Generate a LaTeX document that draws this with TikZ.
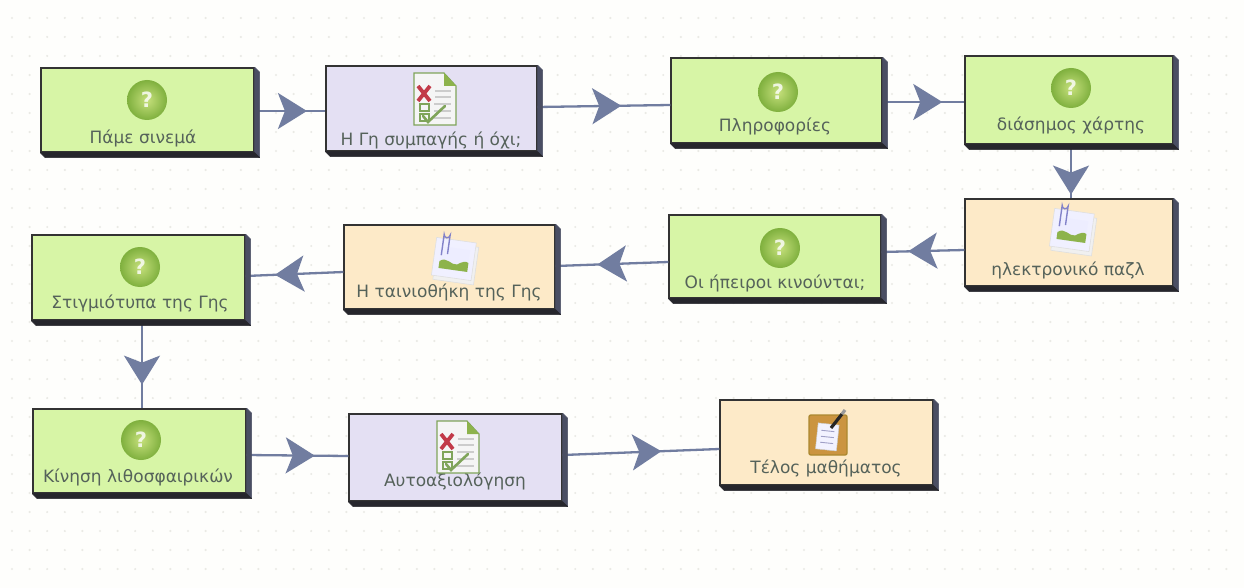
\documentclass[tikz,border=0pt]{standalone}
\usepackage{fontspec}
\setmainfont{DejaVu Sans}
\usetikzlibrary{arrows.meta,decorations.markings,calc}
\definecolor{bggrey}{HTML}{FEFEFC}
\definecolor{dotgrey}{HTML}{EAEAE5}
\definecolor{limefill}{HTML}{D7F5A6}
\definecolor{lavfill}{HTML}{E4E0F3}
\definecolor{peachfill}{HTML}{FDEAC8}
\definecolor{sidedark}{HTML}{4A4E63}
\definecolor{sideblack}{HTML}{26262C}
\definecolor{edgeblue}{HTML}{717DA0}
\definecolor{txtgrey}{HTML}{55625A}
\definecolor{ballin}{HTML}{C6E07C}
\definecolor{ballout}{HTML}{7FB03E}
\definecolor{pagegreen}{HTML}{8DB34C}
\definecolor{filered}{HTML}{C23A48}
\definecolor{fileline}{HTML}{7FA45A}
\definecolor{boardfill}{HTML}{CB9440}
\definecolor{boardedge}{HTML}{AC8830}
\tikzset{
  x=1pt,y=-1pt,
  flowbox/.style={draw=black!80,line width=1.4pt,inner sep=0pt},
  boxside/.style={fill=sidedark,draw=sidedark,line width=.5pt,line join=round},
  boxbottom/.style={fill=sideblack,draw=sideblack,line width=.5pt,line join=round},
  boxlabel/.style={font=\fontsize{17}{19}\selectfont,text=txtgrey,inner sep=0pt},
  flowedge/.style={draw=edgeblue,line width=2.3pt,postaction={decorate,decoration={markings,
    mark=at position #1 with {\arrow[edgeblue]{Stealth[length=29pt,width=36pt,inset=7pt]}}}}},
}
% name, x1,y1,x2,y2, fill, label x, label y, text
\newcommand{\flownode}[9]{%
  \pgfmathsetmacro\bcx{(#2+#4)/2}\pgfmathsetmacro\bcy{(#3+#5)/2}%
  \pgfmathsetmacro\bw{#4-#2}\pgfmathsetmacro\bh{#5-#3}%
  \node[flowbox,fill=#6,minimum width=\bw pt,minimum height=\bh pt] (#1) at (\bcx,\bcy) {};
  \node[boxlabel] (#1-label) at (#7,#8) {#9};
}
\newcommand{\boxthick}[1]{%
  \path[boxside] (#1.north east) -- ++(5,5) -- ($(#1.south east)+(5,5)$) -- (#1.south east) -- cycle;
  \path[boxbottom] (#1.south west) -- ($(#1.south west)+(5,5)$) -- ($(#1.south east)+(5,5)$) -- (#1.south east) -- cycle;
}
\newcommand{\iconball}[3]{%
  \begin{scope}[shift={(#2,#3)}]
    \shade[inner color=ballin,outer color=ballout] (0,0) circle[radius=20];
    \node[text=white,text opacity=.8,inner sep=0pt,font=\bfseries\fontsize{21}{21}\selectfont] (#1) at (0,0) {?};
  \end{scope}
}
\newcommand{\iconquiz}[2]{%
  \begin{scope}[shift={(#1,#2)}]
    \path[fill=white!92!gray,draw=fileline,line width=1.1pt] (-21,-26) -- (9,-26) -- (21,-13) -- (21,26) -- (-21,26) -- cycle;
    \fill[pagegreen] (9,-26) -- (21,-13) -- (9,-13) -- cycle;
    \draw[filered,line width=3.8pt] (-17,-13) -- (-5,2) (-5,-13) -- (-17,2);
    \draw[gray!40,line width=1.2pt] (0,-8) -- (16,-8) (0,-2) -- (16,-2) (-1,5) -- (16,5) (-1,12) -- (16,12) (-1,19) -- (16,19);
    \draw[fileline,line width=1.6pt] (-15,5) rectangle (-6,12) (-15,15) rectangle (-6,22);
    \draw[fileline,line width=2.6pt,line cap=round] (-12,17) -- (-7,23) -- (10,7);
  \end{scope}
}
\newcommand{\iconclip}[2]{%
  \begin{scope}[shift={(#1,#2)}]
    \begin{scope}[rotate=-8]
      \path[fill=gray!12,draw=gray!25,line width=.6pt] (-18,-14) rectangle (23,24);
      \path[fill=white!94!blue,draw=gray!25,line width=.6pt] (-20,-18) rectangle (20,20);
      \fill[blue!7!white] (-14,-10) rectangle (15,12);
      \fill[pagegreen] (-14,12) -- (-14,5) .. controls (-7,-1) and (-2,8) .. (4,6) .. controls (8,3) and (12,1) .. (15,3) -- (15,12) -- cycle;
      \draw[gray!60!blue!70,line width=1.4pt] (-13,-1) -- (-13,-22) arc[start angle=180,end angle=0,radius=3] -- (-7,-3);
    \end{scope}
  \end{scope}
}
\newcommand{\iconnote}[2]{%
  \begin{scope}[shift={(#1,#2)}]
    \path[fill=boardfill,draw=boardedge,line width=1.4pt,rounded corners=2pt] (-19,-20) rectangle (19,20);
    \begin{scope}[rotate=-6]
      \path[fill=white!95!blue,draw=gray!40,line width=.5pt] (-11,-11) rectangle (10,15);
      \draw[blue!25!gray!60,line width=.9pt] (-7,-4) -- (6,-4) (-7,2) -- (6,2) (-7,8) -- (6,8);
    \end{scope}
    \draw[black!85,line width=3.2pt] (3,-7) -- (14,-21);
    \draw[gray!80,line width=3.2pt] (14,-21) -- (17,-25);
  \end{scope}
}
\begin{document}
\begin{tikzpicture}
\useasboundingbox (0,0) rectangle (1244,588);
\fill[bggrey] (0,0) rectangle (1244,588);
\foreach \dx in {0,...,69}{\foreach \dy in {0,...,29}{
  \fill[dotgrey] ({12+17.6*\dx},{18+19*\dy}) circle[radius=1.2];}}
% nodes
\flownode{a}{41}{68}{254}{152}{limefill}{143}{138}{Πάμε σινεμά}
\flownode{b}{326}{66}{537}{151}{lavfill}{431}{140}{Η Γη συμπαγής ή όχι;}
\flownode{c}{671}{58}{882}{143}{limefill}{775}{126}{Πληροφορίες}
\flownode{d}{965}{56}{1173}{144}{limefill}{1071}{125}{διάσημος χάρτης}
\flownode{e}{965}{199}{1173}{286}{peachfill}{1068}{270}{ηλεκτρονικό παζλ}
\flownode{f}{669}{215}{881}{298}{limefill}{775}{283}{Οι ήπειροι κινούνται;}
\flownode{g}{344}{225}{555}{309}{peachfill}{449}{292}{Η ταινιοθήκη της Γης}
\flownode{h}{32}{235}{245}{320}{limefill}{140}{303}{Στιγμιότυπα της Γης}
\flownode{i}{33}{409}{246}{493}{limefill}{138}{477}{Κίνηση λιθοσφαιρικών}
\flownode{j}{349}{414}{562}{501}{lavfill}{455}{481}{Αυτοαξιολόγηση}
\flownode{k}{720}{400}{933}{485}{peachfill}{826}{468}{Τέλος μαθήματος}
% connectors
\draw[flowedge=.74] ([yshift=-1pt]a.east) -- ([yshift=-2.5pt]b.west);
\draw[flowedge=.63] ([yshift=1.5pt]b.east) -- ([yshift=-4.5pt]c.west);
\draw[flowedge=.73] ([yshift=-1.5pt]c.east) -- ([yshift=-2pt]d.west);
\draw[flowedge=.93] ([xshift=2pt]d.south) -- ([xshift=2pt]e.north);
\draw[flowedge=.68] ([yshift=-7.5pt]e.west) -- ([yshift=4.5pt]f.east);
\draw[flowedge=.63] ([yshift=-5.5pt]f.west) -- ([yshift=1pt]g.east);
\draw[flowedge=.70] ([yshift=-5pt]g.west) -- ([yshift=1.5pt]h.east);
\draw[flowedge=.73] ([xshift=3.5pt]h.south) -- ([xshift=2.5pt]i.north);
\draw[flowedge=.67] ([yshift=-4pt]i.east) -- ([yshift=1.5pt]j.west);
\draw[flowedge=.63] ([yshift=2.5pt]j.east) -- ([yshift=-6.5pt]k.west);
% box sides
\foreach \n in {a,b,c,d,e,f,g,h,i,j,k}{\boxthick{\n}}
% icons
\iconball{qa}{147}{100}
\iconquiz{435}{99}
\iconball{qc}{778}{92}
\iconball{qd}{1071}{88}
\iconclip{1072}{229}
\iconball{qf}{780}{248}
\iconclip{454}{258}
\iconball{qh}{140}{267}
\iconball{qi}{141}{440}
\iconquiz{458}{447}
\iconnote{828}{435}
\end{tikzpicture}
\end{document}
